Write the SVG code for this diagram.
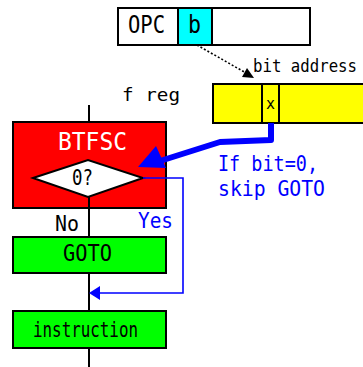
<svg xmlns="http://www.w3.org/2000/svg" width="363" height="367" viewBox="0 0 363 367">
  <style>
    .box { stroke: #000; stroke-width: 2; }
    .t { font-family: "DejaVu Sans Mono", "Liberation Mono", monospace; }
    .blk { fill: #000; }
    .wht { fill: #fff; }
    .blu { fill: #0000ff; }
    .spine { stroke: #000; stroke-width: 2; fill: none; }
  </style>
  <rect width="363" height="367" fill="#fff"/>

  <!-- instruction word: opcode + bit field -->
  <g id="opcode-word">
    <rect class="box" x="118" y="8" width="192" height="37" fill="#fff"/>
    <rect class="box" x="178" y="8" width="34" height="37" fill="#00ffff"/>
    <text class="t blk" x="128" y="33" font-size="24" textLength="37" lengthAdjust="spacingAndGlyphs">OPC</text>
    <text class="t blk" x="188" y="33" font-size="24" textLength="13" lengthAdjust="spacingAndGlyphs">b</text>
  </g>

  <!-- file register with the selected bit -->
  <g id="f-register">
    <rect class="box" x="213" y="84" width="160" height="39" fill="#ffff00"/>
    <line x1="262" y1="84" x2="262" y2="123" stroke="#000" stroke-width="2"/>
    <line x1="279" y1="84" x2="279" y2="123" stroke="#000" stroke-width="2"/>
    <text class="t blk" x="270.5" y="109" font-size="15" text-anchor="middle">x</text>
  </g>

  <g id="labels">
    <text class="t blk" x="253" y="72" font-size="18" textLength="104" lengthAdjust="spacingAndGlyphs">bit address</text>
    <text class="t blk" x="122" y="101" font-size="18" textLength="58" lengthAdjust="spacingAndGlyphs">f reg</text>
    <text class="t blu" x="218" y="171" font-size="21" textLength="100" lengthAdjust="spacingAndGlyphs">If bit=0,</text>
    <text class="t blu" x="218" y="196" font-size="21" textLength="107" lengthAdjust="spacingAndGlyphs">skip GOTO</text>
    <text class="t blk" x="55" y="231" font-size="22" textLength="24" lengthAdjust="spacingAndGlyphs">No</text>
    <text class="t blu" x="138" y="228" font-size="21" textLength="35" lengthAdjust="spacingAndGlyphs">Yes</text>
  </g>

  <g id="btfsc">
    <rect class="box" x="13" y="122" width="153" height="86" fill="#ff0000"/>
    <text class="t wht" x="58" y="150" font-size="24" textLength="69" lengthAdjust="spacingAndGlyphs">BTFSC</text>
  </g>

  <g id="test-zero">
    <polygon class="box" points="33,178 88,160 143,178 88,197" fill="#fff" stroke-width="1.6"/>
    <text class="t blk" x="72" y="185" font-size="22" textLength="21" lengthAdjust="spacingAndGlyphs">0?</text>
  </g>

  <g id="goto">
    <rect class="box" x="13" y="237" width="153" height="36" fill="#00ff00"/>
    <text class="t blk" x="63" y="261" font-size="23" textLength="49" lengthAdjust="spacingAndGlyphs">GOTO</text>
  </g>

  <g id="instruction">
    <rect class="box" x="13" y="311" width="153" height="37" fill="#00ff00"/>
    <text class="t blk" x="33" y="337" font-size="22" textLength="105" lengthAdjust="spacingAndGlyphs">instruction</text>
  </g>

  <!-- connectors, drawn over the boxes -->
  <g id="connectors">
    <line class="spine" x1="89" y1="105" x2="89" y2="122"/>
    <line class="spine" x1="89" y1="197" x2="89" y2="237"/>
    <line class="spine" x1="89" y1="273" x2="89" y2="311"/>
    <line class="spine" x1="89" y1="348" x2="89" y2="367"/>
    <!-- bit field selects the register bit -->
    <line x1="197" y1="45" x2="246" y2="73" stroke="#000" stroke-width="1.6" stroke-dasharray="2 2"/>
    <polygon points="254,78 242,77 247,68" fill="#000"/>
    <!-- tested bit feeds the BTFSC decision -->
    <polyline points="271,123 271,140 220,142 160,161" fill="none" stroke="#0000ff" stroke-width="6" stroke-linejoin="round"/>
    <polygon points="138,167 156,146 166,168" fill="#0000ff"/>
    <!-- skip path -->
    <polyline points="143,178 183,178 183,293 99,293" fill="none" stroke="#0000ff" stroke-width="1.6"/>
    <polygon points="89,293 100,286 100,300" fill="#0000ff"/>
  </g>
</svg>
